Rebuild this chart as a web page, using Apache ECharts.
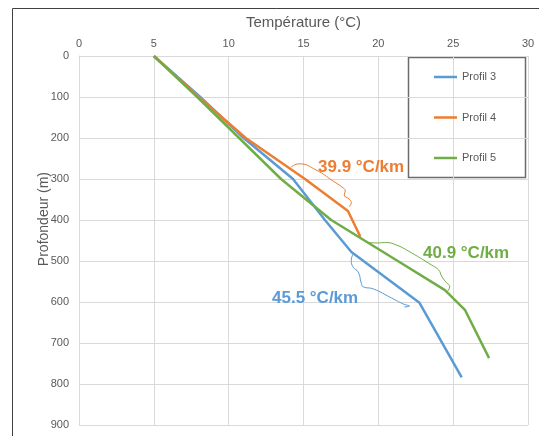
<!DOCTYPE html>
<html>
<head>
<meta charset="utf-8">
<script src="https://cdn.jsdelivr.net/npm/echarts@6/dist/echarts.min.js"></script>
<style>
html,body{margin:0;padding:0;background:#fff;}
#chart{width:539px;height:436px;}
</style>
</head>
<body>
<div id="chart"></div>
<script>
// Data: [temperature °C, depth m]
var profil3 = [[5,0],[8.1,100],[11.0,200],[14.3,300],[16.43,400],[18.2,478],[22.75,602],[25.57,784]];
var profil4 = [[5,0],[8.0,100],[11.14,200],[15.1,300],[17.97,378],[18.8,441]];
var profil5 = [[5,0],[7.9,100],[10.7,200],[13.5,300],[16.85,400],[21.3,500],[24.45,571],[25.8,620],[27.4,737]];
var seriesNames = ['Profil 3','Profil 4','Profil 5'];
var colors = ['#5B9BD5','#ED7D31','#70AD47'];
var xTicks = {min:0, max:30, interval:5};
var yTicks = {min:0, max:900, interval:100};
// Annotation braces (data coordinates)
var brace4 = [[14.16,271],[14.7,263],[15.84,278],[16.98,305],[17.58,320],[17.79,329],[17.72,339],[18.05,349],[18.19,358],[18.05,368]];
var brace3 = [[18.32,483],[18.19,498],[18.32,515],[18.66,527],[18.86,554],[18.99,563],[19.66,568],[20.87,590],[21.68,605],[22.08,610],[21.74,612]];
var brace5 = [[19.19,454],[19.93,456],[20.47,455],[21.21,461],[22.21,480],[23.56,510],[24.03,522],[24.23,537],[24.5,551],[24.77,563],[24.56,576]];
var labels = ['39.9 °C/km','40.9 °C/km','45.5 °C/km'];

var chart = echarts.init(document.getElementById('chart'));
var gridColor = '#d9d9d9';
var textColor = '#595959';
var font = 'Liberation Sans, Arial, sans-serif';

function lineSeries(name, data, color){
  return {name:name, type:'line', data:data, symbol:'none', smooth:false,
    lineStyle:{color:color, width:2.5}, itemStyle:{color:color}, z:3};
}
function braceSeries(data, color){
  return {type:'line', data:data, symbol:'none', smooth:true, silent:true,
    lineStyle:{color:color, width:1}, z:2, legendHoverLink:false, tooltip:{show:false}};
}

chart.setOption({
  animation:false,
  backgroundColor:'#fff',
  textStyle:{fontFamily:font},
  grid:{left:79, top:56, width:449, height:369, containLabel:false},
  xAxis:{type:'value', position:'top', min:xTicks.min, max:xTicks.max, interval:xTicks.interval,
    name:'Température (°C)', nameLocation:'middle', nameGap:26,
    nameTextStyle:{color:textColor, fontSize:15, fontFamily:font},
    axisLine:{show:true, lineStyle:{color:gridColor}}, axisTick:{show:false},
    axisLabel:{color:textColor, fontSize:11, margin:7, fontFamily:font},
    splitLine:{show:true, lineStyle:{color:gridColor, width:1}}},
  yAxis:{type:'value', inverse:true, min:yTicks.min, max:yTicks.max, interval:yTicks.interval,
    axisLine:{show:true, lineStyle:{color:gridColor}}, axisTick:{show:false},
    axisLabel:{color:textColor, fontSize:11, margin:10, fontFamily:font},
    splitLine:{show:true, lineStyle:{color:gridColor, width:1}}},
  legend:{data:seriesNames, orient:'vertical', left:434, top:70, padding:0, icon:'rect', itemWidth:23, itemHeight:2.5, itemGap:26.5,
    textStyle:{color:textColor, fontSize:11, fontFamily:font, lineHeight:14}},
  series:[
    lineSeries(seriesNames[0], profil3, colors[0]),
    lineSeries(seriesNames[1], profil4, colors[1]),
    lineSeries(seriesNames[2], profil5, colors[2]),
    braceSeries(brace4, colors[1]),
    braceSeries(brace3, colors[0]),
    braceSeries(brace5, colors[2])
  ],
  graphic:[
    {type:'rect', shape:{x:12.5, y:8.5, width:700, height:700}, style:{fill:'none', stroke:'#404040', lineWidth:1}, silent:true},
    {type:'rect', shape:{x:408.5, y:57.5, width:117, height:120}, style:{fill:'#fff', stroke:'#6b6b6b', lineWidth:1.5}, z:-1, silent:true},
    {type:'text', left:37, top:172, rotation:Math.PI/2, style:{text:'Profondeur (m)', fill:textColor, font:'14px '+font}},
    {type:'text', x:318, y:167, style:{text:labels[0], fill:colors[1], font:'bold 17px '+font, textVerticalAlign:'middle'}, z:10},
    {type:'text', x:423, y:253, style:{text:labels[1], fill:colors[2], font:'bold 17px '+font, textVerticalAlign:'middle'}, z:10},
    {type:'text', x:272, y:298, style:{text:labels[2], fill:colors[0], font:'bold 17px '+font, textVerticalAlign:'middle'}, z:10}
  ]
});
</script>
</body>
</html>
